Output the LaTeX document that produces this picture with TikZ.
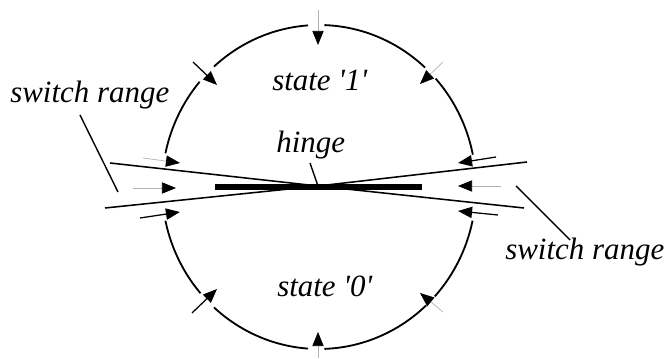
\documentclass[tikz,border=0pt]{standalone}
\usepackage{fontspec}
\setmainfont{Liberation Serif}
\usetikzlibrary{arrows.meta,calc}

\begin{document}
\begin{tikzpicture}[x=0.025cm, y=-0.025cm, >={Triangle[length=10pt,width=8pt,black]},
    ring/.style={line width=1.3pt},
    graytail/.style={->, line width=0.5pt, gray!60},
    blacktail/.style={->, line width=0.9pt},
    lbl/.style={font=\fontsize{22}{26}\itshape\selectfont, inner sep=0pt, anchor=base west}]
    \useasboundingbox (0,0) rectangle (672,359);
    % the two states
    \foreach \a/\b in {94/132, 47.5/88, 11.5/42, 139.5/168, 192/221, 228/266, 272/313, 317.5/348}
        \draw[ring] plot[domain=\a:\b, samples=30] ({319+157*cos(\x)},{187-162*sin(\x)});
    \node[lbl] (one) at (272,91) {state \textquotesingle1\textquotesingle};
    \node[lbl] (zero) at (277,297) {state \textquotesingle0\textquotesingle};
    % lever and switch range
    \coordinate (hinge) at (318,186);
    \coordinate (upl) at (110,163);
    \coordinate (upr) at (524,208);
    \coordinate (lol) at (105,208);
    \coordinate (lor) at (527,162);
    \draw[line width=1.1pt] (upl) -- (hinge) -- (upr);
    \draw[line width=1.1pt] (lol) -- (hinge) -- (lor);
    \draw[line width=3.6pt] (215,187) coordinate (barl) -- (422,187) coordinate (barr);
    \node[lbl] (hl) at (276,153) {hinge};
    \draw[line width=1pt] (310,163) -- (hinge);
    \node[lbl] (swl) at (10,103) {switch range};
    \node[lbl] (swr) at (505,260) {switch range};
    \draw[line width=1pt] (80,115) -- (118,192);
    \draw[line width=1pt] (516,186) -- (570,240);
    % arrows on the ring
    \foreach \s/\t/\st in {{318,10}/{318,45}/graytail, {193,62}/{217,85}/blacktail,
        {443,62}/{420,84}/graytail, {143,158}/{180,163}/graytail, {496,157}/{458,163}/blacktail,
        {133,188}/{176,188}/graytail, {501,186}/{458,186}/graytail, {140,218}/{180,212}/blacktail,
        {498,215}/{458,211}/blacktail, {192,313}/{217,289}/blacktail, {443,312}/{420,293}/graytail,
        {318,358}/{318,332}/graytail}
        \draw[\st] (\s) -- (\t);
\end{tikzpicture}
\end{document}
